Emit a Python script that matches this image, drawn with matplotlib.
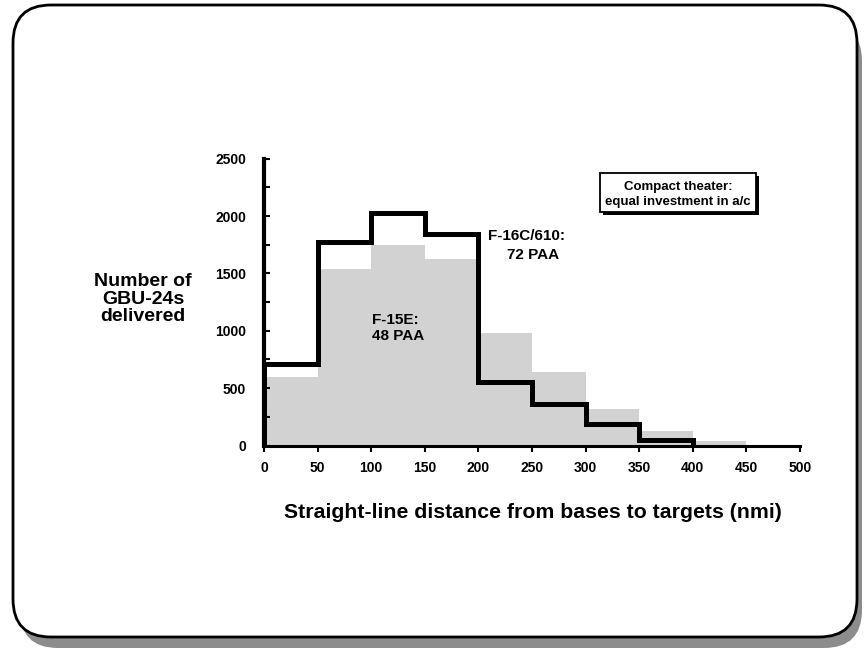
import numpy as np
import matplotlib.pyplot as plt
import matplotlib.transforms as mtransforms
from matplotlib.patches import FancyBboxPatch, Rectangle

plt.rcParams['font.family'] = ['Liberation Sans', 'DejaVu Sans']
plt.rcParams['font.weight'] = 'bold'

# bins of straight-line distance (nmi), 50 nmi wide
bin_left = [0, 50, 100, 150, 200, 250, 300, 350, 400]
bin_width = 50
# GBU-24s delivered per bin
f15e = [600, 1540, 1750, 1630, 985, 645, 315, 125, 35]
f16c = [715, 1775, 2030, 1840, 550, 365, 190, 50, 0]

W, H = 864, 649
fig = plt.figure(figsize=(W / 100, H / 100), dpi=100)
ident = mtransforms.IdentityTransform()

# slide frame with shadow (pixel coords, origin bottom-left)
shadow = FancyBboxPatch((20, 1), 842, 625, boxstyle='round,pad=0,rounding_size=38',
                        transform=ident, facecolor='#8c8c8c', edgecolor='none', zorder=0)
frame = FancyBboxPatch((13, 12), 844, 632, boxstyle='round,pad=0,rounding_size=38',
                       transform=ident, facecolor='white', edgecolor='black', lw=2, zorder=1)
fig.add_artist(shadow)
fig.add_artist(frame)

ax = fig.add_axes([264 / W, (H - 445.5) / H, 536 / W, 286.7 / H])
ax.set_facecolor('none')
ax.set_zorder(2)

ax.bar(bin_left, f15e, width=bin_width, align='edge', color='#d2d2d2', lw=0, zorder=1)
edges = bin_left[:-1] + [bin_left[-1]]
ax.stairs(f16c[:-1], edges, baseline=0, color='black', lw=3.6, zorder=3)

ax.set_xlim(0, 500)
ax.set_ylim(0, 2500)
ax.set_xticks(range(0, 501, 50))
ax.set_yticks(range(0, 2501, 500))
ax.set_yticks(range(0, 2501, 250), minor=True)
for s in ['top', 'right']:
    ax.spines[s].set_visible(False)
ax.spines['left'].set_linewidth(3)
ax.spines['bottom'].set_linewidth(2.2)
ax.tick_params(axis='y', which='both', direction='in', length=4, width=1.5, pad=13, labelsize=10)
ax.tick_params(axis='x', direction='out', length=4, width=1.5, pad=7.5, labelsize=10)
for lab in ax.get_xticklabels() + ax.get_yticklabels():
    lab.set_fontweight('bold')

ax.text(101, 1025, 'F-15E:\n48 PAA', fontsize=11, fontweight='bold', va='center', ha='left', zorder=4)
ax.text(209, 1830, 'F-16C/610:', fontsize=11, fontweight='bold', va='center', ha='left')
ax.text(227, 1660, '72 PAA', fontsize=11, fontweight='bold', va='center', ha='left')

# note box with drop shadow
ax.add_patch(Rectangle((316.5, 2010), 145.5, 340, facecolor='black', edgecolor='none', zorder=5))
ax.add_patch(Rectangle((313.5, 2036), 145.5, 340, facecolor='white', edgecolor='black', lw=1.3, zorder=6))
ax.text(386, 2190, 'Compact theater:\nequal investment in a/c', fontsize=9.5, fontweight='bold',
        ha='center', va='center', zorder=7, linespacing=1.3)

fig.text(143 / W, 1 - 299 / H, 'Number of\nGBU-24s\ndelivered', fontsize=14, fontweight='bold',
         ha='center', va='center', linespacing=1.05)
fig.text(533 / W, 1 - 512 / H, 'Straight-line distance from bases to targets (nmi)', fontsize=15.3,
         fontweight='bold', ha='center', va='center')

fig.savefig('out.png', dpi=100)
